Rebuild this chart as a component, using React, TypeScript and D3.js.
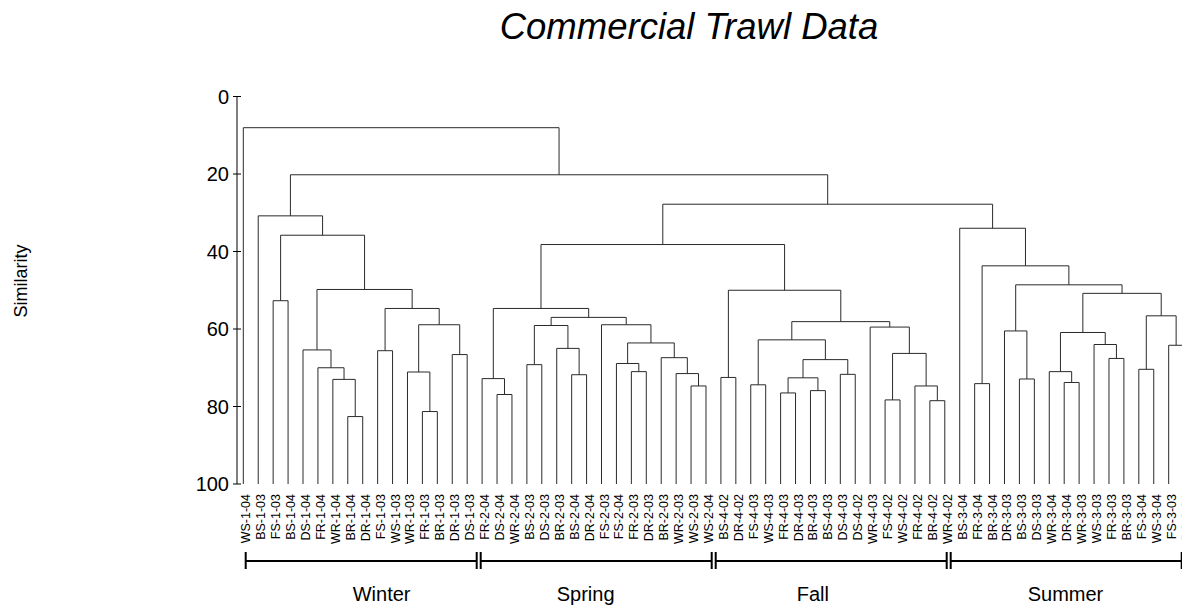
import * as d3 from "d3";

const WIDTH = 1182;
const HEIGHT = 608;
const FONT = "'Liberation Sans', Arial, sans-serif";

// leaves, in the order they appear along the x axis
const leafLabels = [
  "WS-1-04", "BS-1-03", "FS-1-03", "BS-1-04", "DS-1-04", "FR-1-04", "WR-1-04", "BR-1-04",
  "DR-1-04", "FS-1-03", "WS-1-03", "WR-1-03", "FR-1-03", "BR-1-03", "DR-1-03", "DS-1-03",
  "FR-2-04", "DS-2-04", "WR-2-04", "BS-2-03", "DS-2-03", "BR-2-03", "BS-2-04", "DR-2-04",
  "FS-2-03", "FS-2-04", "FR-2-03", "DR-2-03", "BR-2-03", "WR-2-03", "WS-2-03", "WS-2-04",
  "BS-4-02", "DR-4-02", "FS-4-03", "WS-4-03", "FR-4-03", "DR-4-03", "BR-4-03", "BS-4-03",
  "DS-4-03", "DS-4-02", "WR-4-03", "FS-4-02", "WS-4-02", "FR-4-02", "BR-4-02", "WR-4-02",
  "BS-3-04", "FR-3-04", "BR-3-04", "DR-3-03", "BS-3-03", "DS-3-03", "WR-3-04", "DR-3-04",
  "WR-3-03", "WS-3-03", "FR-3-03", "BR-3-03", "FS-3-04", "WS-3-04", "FS-3-03", "DS-3-04",
];

// merge steps: [a, b, similarity]; ids < 64 are leaves, id 64 + i is merges[i]
const merges: [number, number, number][] = [
  // winter
  [7, 8, 82.6], [6, 64, 73.0], [5, 65, 70.0], [4, 66, 65.4],
  [12, 13, 81.3], [11, 68, 71.1], [14, 15, 66.6], [69, 70, 58.9],
  [9, 10, 65.6], [72, 71, 54.7], [67, 73, 49.8], [2, 3, 52.7],
  [75, 74, 35.8], [1, 76, 30.8],
  // spring
  [17, 18, 76.9], [16, 78, 72.8], [19, 20, 69.2], [22, 23, 71.8],
  [21, 81, 65.0], [80, 82, 59.1], [26, 27, 71.0], [25, 84, 68.9],
  [30, 31, 74.7], [29, 86, 71.5], [28, 87, 67.4], [85, 88, 63.6],
  [24, 89, 58.9], [83, 90, 57.0], [79, 91, 54.7],
  // fall
  [32, 33, 72.5], [34, 35, 74.4], [36, 37, 76.5], [38, 39, 75.9],
  [95, 96, 72.6], [40, 41, 71.7], [97, 98, 67.9], [94, 99, 62.8],
  [43, 44, 78.3], [46, 47, 78.5], [45, 102, 74.7], [101, 103, 66.3],
  [42, 104, 59.5], [100, 105, 58.1], [93, 106, 50.0],
  // summer
  [49, 50, 74.1], [52, 53, 72.9], [51, 109, 60.5], [55, 56, 73.8],
  [54, 111, 71.0], [58, 59, 67.6], [57, 113, 64.0], [112, 114, 60.9],
  [60, 61, 70.4], [62, 63, 64.2], [116, 117, 56.6], [115, 118, 50.8],
  [110, 119, 48.6], [108, 120, 43.7], [48, 121, 34.0],
  // top
  [92, 107, 38.2], [123, 122, 27.8], [77, 124, 20.2], [0, 125, 8.05],
];

const seasons = ["Winter", "Spring", "Fall", "Summer"];
const yTicks = [0, 20, 40, 60, 80, 100];

// layout
const AXIS_X = 237;
const PLOT_TOP = 96.5;
const PLOT_BOTTOM = 484;
const LABEL_TOP = 494;
const BRACKET_Y = 561;
const seasonTextInset = [107, 76, 81, 77]; // where each season's text starts in its bracket

type TreeNode = { name?: string; sim: number; children?: TreeNode[] };

function buildTree(): TreeNode {
  const nodes: TreeNode[] = leafLabels.map((name) => ({ name, sim: 100 }));
  merges.forEach(([a, b, sim]) => {
    nodes.push({ sim, children: [nodes[a], nodes[b]] });
  });
  return nodes[nodes.length - 1];
}

export default function App() {
  const root = d3.hierarchy<TreeNode>(buildTree());
  const leaves = root.leaves();

  const xScale = d3.scaleLinear().domain([0, leaves.length - 1]).range([243.3, 1183.6]);
  const yScale = d3.scaleLinear().domain([0, 100]).range([PLOT_TOP, PLOT_BOTTOM]);

  // leaves evenly spaced, parents sit over the middle of their two children
  const xPos = new Map<d3.HierarchyNode<TreeNode>, number>();
  leaves.forEach((d, i) => xPos.set(d, xScale(i)));
  root.eachAfter((d) => {
    if (d.children) xPos.set(d, d3.mean(d.children, (c) => xPos.get(c)!)!);
  });

  const links = root.descendants().filter((d) => d.children).map((d, i) => {
    const [c0, c1] = d.children!;
    const yn = yScale(d.data.sim);
    const path = `M${xPos.get(c0)},${yScale(c0.data.sim)}V${yn}H${xPos.get(c1)}V${yScale(c1.data.sim)}`;
    return <path key={i} d={path} fill="none" stroke="#2a2a2a" strokeWidth={1} />;
  });

  const seasonScale = d3.scaleLinear().domain([0, seasons.length]).range([245.7, 245.7 + 235 * seasons.length]);

  return (
    <svg width={WIDTH} height={HEIGHT} style={{ position: "absolute", left: 0, top: 0, background: "white" }} fontFamily={FONT}>
      <text x={689} y={39} textAnchor="middle" fontSize={36.5} fontStyle="italic" fill="#000">
        Commercial Trawl Data
      </text>

      <text transform={`translate(27, 281) rotate(-90)`} textAnchor="middle" fontSize={18} fill="#000">
        Similarity
      </text>

      {/* y axis */}
      <line x1={AXIS_X} x2={AXIS_X} y1={PLOT_TOP} y2={PLOT_BOTTOM} stroke="#000" />
      {yTicks.map((t) => (
        <g key={t} transform={`translate(0, ${yScale(t)})`}>
          <line x1={AXIS_X - 4} x2={AXIS_X + 4} stroke="#000" />
          <text x={AXIS_X - 8} dy="0.35em" textAnchor="end" fontSize={20} fill="#000">
            {t}
          </text>
        </g>
      ))}

      {links}

      {leaves.map((d, i) => (
        <text
          key={i}
          transform={`translate(${xPos.get(d)! + 7}, ${LABEL_TOP}) rotate(-90)`}
          textAnchor="end"
          fontSize={12.5}
          fill="#000"
        >
          {d.data.name}
        </text>
      ))}

      {seasons.map((s, i) => {
        const x0 = seasonScale(i);
        const x1 = seasonScale(i + 1) - 4;
        return (
          <g key={s} stroke="#000" strokeWidth={2}>
            <line x1={x0} x2={x1} y1={BRACKET_Y} y2={BRACKET_Y} />
            <line x1={x0} x2={x0} y1={BRACKET_Y - 9} y2={BRACKET_Y + 8} />
            <line x1={x1} x2={x1} y1={BRACKET_Y - 9} y2={BRACKET_Y + 8} />
            <text x={x0 + seasonTextInset[i]} y={601} fontSize={20} stroke="none" fill="#000">
              {s}
            </text>
          </g>
        );
      })}
    </svg>
  );
}
